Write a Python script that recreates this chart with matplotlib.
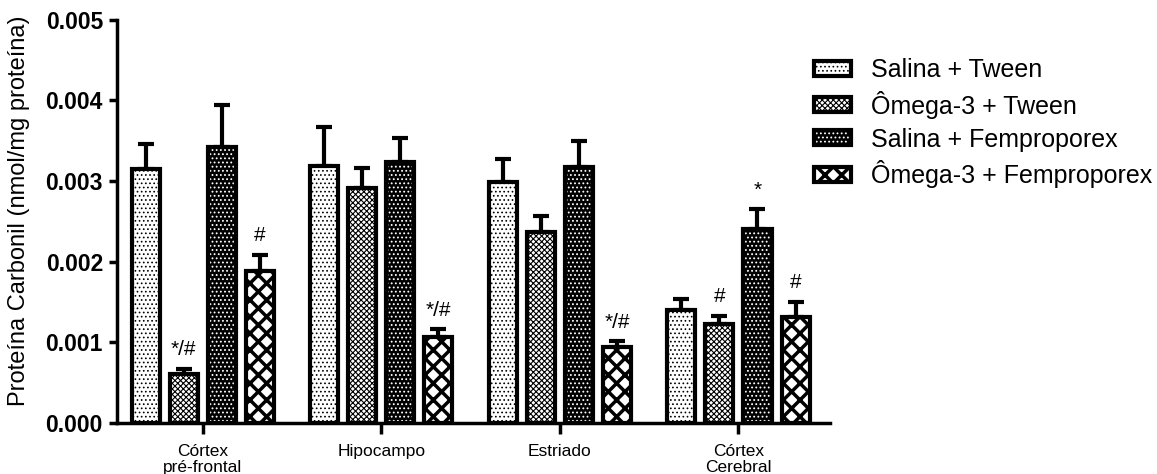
import matplotlib.pyplot as plt
import numpy as np

plt.rcParams['font.family'] = ['Liberation Sans', 'DejaVu Sans']

regioes = ['Córtex\npré-frontal', 'Hipocampo', 'Estriado', 'Córtex\nCerebral']
grupos = ['Salina + Tween', 'Ômega-3 + Tween', 'Salina + Femproporex', 'Ômega-3 + Femproporex']

# media por grupo (uma entrada por regiao)
sal_tween = [0.00315, 0.00319, 0.00299, 0.00140]
om_tween = [0.00061, 0.00291, 0.00237, 0.00123]
sal_fem = [0.00342, 0.00324, 0.00317, 0.00240]
om_fem = [0.00188, 0.00106, 0.00094, 0.00131]

# erro padrao (so para cima)
err_sal_tween = [0.00031, 0.00048, 0.00028, 0.00014]
err_om_tween = [0.00006, 0.00025, 0.00020, 0.00010]
err_sal_fem = [0.00052, 0.00030, 0.00033, 0.00025]
err_om_fem = [0.00020, 0.00010, 0.00007, 0.00019]

# marcas de significancia
sig_sal_tween = ['', '', '', '']
sig_om_tween = ['*/#', '', '', '#']
sig_sal_fem = ['', '', '', '*']
sig_om_fem = ['#', '*/#', '*/#', '#']

medias = [sal_tween, om_tween, sal_fem, om_fem]
erros = [err_sal_tween, err_om_tween, err_sal_fem, err_om_fem]
sigs = [sig_sal_tween, sig_om_tween, sig_sal_fem, sig_om_fem]

# estilo de cada serie: (cor de fundo, cor do hatch, hatch, espessura do hatch)
estilos = [
    ('white', 'black', '....', 0.7),
    ('white', 'black', 'xxxxxx', 0.8),
    ('black', 'white', '....', 0.8),
    ('white', 'black', 'xx', 2.5),
]

fig = plt.figure(figsize=(11.57, 4.74), dpi=100)
ax = fig.add_axes([0.101, 0.108, 0.616, 0.850])

x = np.arange(len(regioes))
largura = 0.157
passo = 0.213

handles = []
for i in range(4):
    pos = x + (i - 1.5) * passo
    fundo, cor_hatch, hatch, hlw = estilos[i]
    plt.rcParams['hatch.linewidth'] = hlw
    b1 = ax.bar(pos, medias[i], largura, color=fundo, edgecolor=cor_hatch,
                hatch=hatch, linewidth=0, zorder=2)
    b2 = ax.bar(pos, medias[i], largura, facecolor='none', edgecolor='black',
                linewidth=3, zorder=3)
    ax.errorbar(pos, medias[i], yerr=[np.zeros(4), erros[i]], fmt='none',
                ecolor='black', elinewidth=3, capsize=6, capthick=3, zorder=1)
    for j in range(4):
        if sigs[i][j]:
            ax.annotate(sigs[i][j], (pos[j], medias[i][j] + erros[i][j]),
                        xytext=(0, 7), textcoords='offset points',
                        ha='center', va='bottom', fontsize=15)
    handles.append((b1[0], b2[0]))

ax.set_xlim(-0.48, 3.51)
ax.set_ylim(0, 0.005)
ax.set_yticks([0, 0.001, 0.002, 0.003, 0.004, 0.005])
ax.set_yticklabels(['0.000', '0.001', '0.002', '0.003', '0.004', '0.005'],
                   fontweight='bold', fontsize=16.5)
ax.set_xticks(x)
ax.set_xticklabels(regioes, fontsize=12.5, linespacing=1.1)
ax.set_ylabel('Proteína Carbonil (nmol/mg proteína)', fontsize=17)
ax.yaxis.set_label_coords(-0.122, 0.526)

ax.spines['top'].set_visible(False)
ax.spines['right'].set_visible(False)
ax.spines['left'].set_linewidth(2.5)
ax.spines['bottom'].set_linewidth(2.5)
ax.tick_params(axis='y', length=6, width=2.5, pad=4)
ax.tick_params(axis='x', length=8, width=2.5, pad=7)

leg = fig.legend(handles, grupos, loc='upper left', bbox_to_anchor=(0.684, 0.925),
                 frameon=False, fontsize=18, handlelength=1.5, handleheight=0.55,
                 handletextpad=0.8, labelspacing=0.35)
# o hatch da legenda usa a espessura do rcParams no momento da criacao
for k, p in enumerate(leg.get_patches()):
    if hasattr(p, 'set_hatch_linewidth'):
        p.set_hatch_linewidth(estilos[k][3])

fig.savefig('out.png', dpi=100)
